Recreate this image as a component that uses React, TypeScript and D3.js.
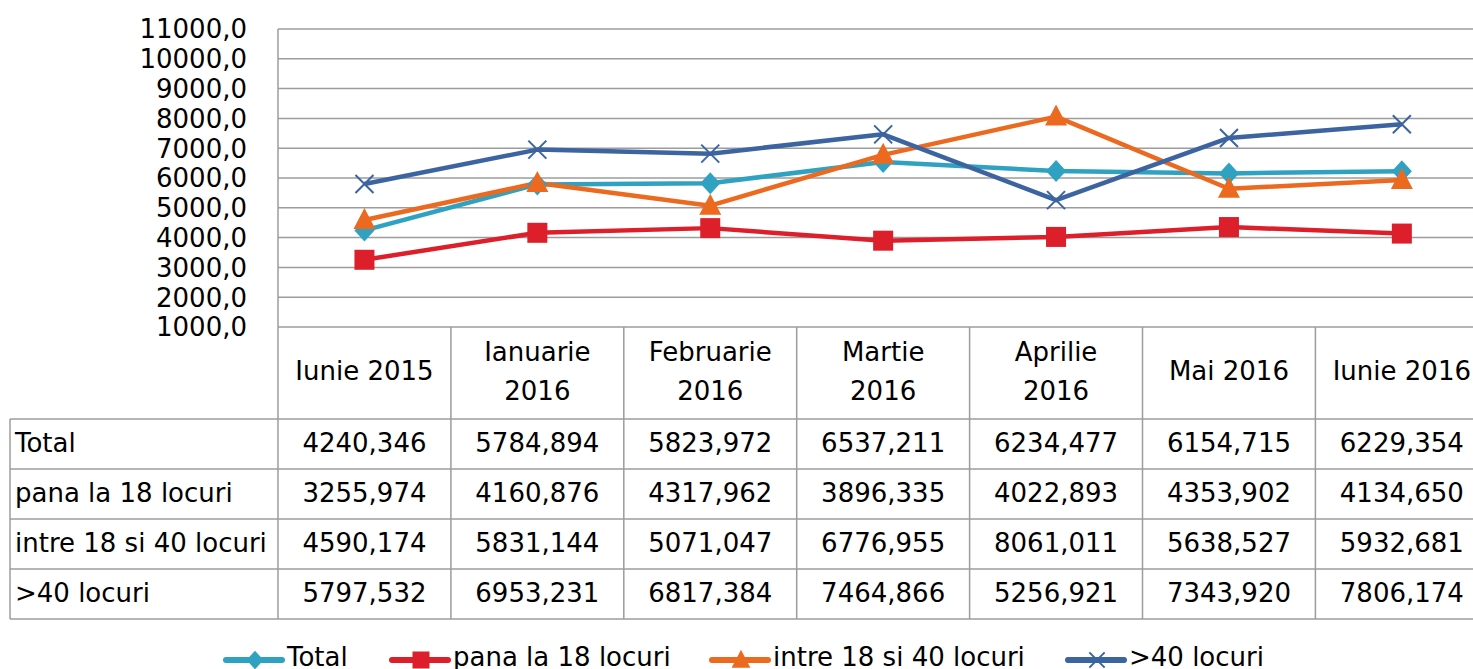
import React from "react";
import * as d3 from "d3";

const categories = ["Iunie 2015", "Ianuarie 2016", "Februarie 2016", "Martie 2016", "Aprilie 2016", "Mai 2016", "Iunie 2016"];
const headerLines = [["Iunie 2015"], ["Ianuarie", "2016"], ["Februarie", "2016"], ["Martie", "2016"], ["Aprilie", "2016"], ["Mai 2016"], ["Iunie 2016"]];

const seriesNames = ["Total", "pana la 18 locuri", "intre 18 si 40 locuri", ">40 locuri"];
const total = [4240.346, 5784.894, 5823.972, 6537.211, 6234.477, 6154.715, 6229.354];
const pana18 = [3255.974, 4160.876, 4317.962, 3896.335, 4022.893, 4353.902, 4134.65];
const intre1840 = [4590.174, 5831.144, 5071.047, 6776.955, 8061.011, 5638.527, 5932.681];
const peste40 = [5797.532, 6953.231, 6817.384, 7464.866, 5256.921, 7343.92, 7806.174];
const yTicks = [1000, 2000, 3000, 4000, 5000, 6000, 7000, 8000, 9000, 10000, 11000];

const colors = ["#2fa2c2", "#dc1f2a", "#ec6a1f", "#3b64a0"];
const markers = ["diamond", "square", "triangle", "x"];

const W = 1473;
const H = 669;
const plotLeft = 278;
const plotTop = 29;
const plotBottom = 327;
const colW = 172.9;
const tableLeft = 10;
const headerBottom = 419;
const tableBottom = 619;
const gridColor = "#9c9c9c";
const font = "'DejaVu Sans', Verdana, sans-serif";
const fs = 26;

const ro = d3.formatLocale({ decimal: ",", thousands: "", grouping: [3], currency: ["", ""] });
const fmt3 = ro.format(".3f");
const fmt1 = ro.format(".1f");

function Marker({ type, x, y, color, s = 1 }: { type: string; x: number; y: number; color: string; s?: number }) {
  if (type === "diamond") {
    return <path d={`M${x},${y - 11 * s}L${x + 10 * s},${y}L${x},${y + 11 * s}L${x - 10 * s},${y}Z`} fill={color} />;
  }
  if (type === "square") {
    return <rect x={x - 10 * s} y={y - 10 * s} width={20 * s} height={20 * s} fill={color} />;
  }
  if (type === "triangle") {
    return <path d={`M${x},${y - 12 * s}L${x + 11 * s},${y + 9 * s}L${x - 11 * s},${y + 9 * s}Z`} fill={color} />;
  }
  return (
    <g stroke={color} strokeWidth={2}>
      <line x1={x - 9 * s} y1={y - 9 * s} x2={x + 9 * s} y2={y + 9 * s} />
      <line x1={x - 9 * s} y1={y + 9 * s} x2={x + 9 * s} y2={y - 9 * s} />
    </g>
  );
}

export default function App() {
  const series = [total, pana18, intre1840, peste40];
  const x = d3.scaleBand<string>().domain(categories).range([plotLeft, plotLeft + colW * categories.length]);
  const y = d3.scaleLinear().domain([1000, 11000]).range([plotBottom, plotTop]);
  const rows = d3.scaleBand<string>().domain(seriesNames).range([headerBottom, tableBottom]);
  const cx = (c: string) => (x(c) as number) + x.bandwidth() / 2;

  const line = d3
    .line<number>()
    .x((_, i) => cx(categories[i]))
    .y((d) => y(d));

  const legendX = [226, 392, 712, 1068];

  return (
    <svg width={W} height={H} style={{ position: "fixed", left: 0, top: 0, background: "#fff" }} fontFamily={font}>
      {/* gridlines */}
      {yTicks.map((t) => (
        <line key={t} x1={plotLeft} x2={W} y1={y(t)} y2={y(t)} stroke={gridColor} strokeWidth={1.5} />
      ))}
      {yTicks.map((t) => (
        <text key={"l" + t} x={247} y={y(t)} dy="0.36em" textAnchor="end" fontSize={fs} fill="#000">
          {fmt1(t)}
        </text>
      ))}

      {/* table grid */}
      <line x1={plotLeft} x2={plotLeft} y1={plotTop} y2={tableBottom} stroke={gridColor} strokeWidth={1.5} />
      {categories.slice(1).map((c) => (
        <line key={c} x1={x(c)} x2={x(c)} y1={plotBottom} y2={tableBottom} stroke={gridColor} strokeWidth={1.5} />
      ))}
      <line x1={tableLeft} x2={tableLeft} y1={headerBottom} y2={tableBottom} stroke={gridColor} strokeWidth={1.5} />
      {seriesNames.map((s) => (
        <line key={s} x1={tableLeft} x2={W} y1={rows(s)} y2={rows(s)} stroke={gridColor} strokeWidth={1.5} />
      ))}
      <line x1={tableLeft} x2={W} y1={tableBottom} y2={tableBottom} stroke={gridColor} strokeWidth={1.5} />

      {/* header */}
      {categories.map((c, i) => {
        const lines = headerLines[i];
        const mid = (plotBottom + headerBottom) / 2 - 2;
        return lines.map((l, j) => (
          <text key={c + j} x={cx(c)} y={mid + (j - (lines.length - 1) / 2) * 39} dy="0.36em" textAnchor="middle" fontSize={fs}>
            {l}
          </text>
        ));
      })}

      {/* rows */}
      {seriesNames.map((s, si) => (
        <g key={s}>
          <text x={15} y={(rows(s) as number) + rows.bandwidth() / 2 - 1} dy="0.36em" fontSize={fs}>
            {s}
          </text>
          {series[si].map((v, i) => (
            <text key={i} x={cx(categories[i])} y={(rows(s) as number) + rows.bandwidth() / 2 - 1} dy="0.36em" textAnchor="middle" fontSize={fs}>
              {fmt3(v)}
            </text>
          ))}
        </g>
      ))}

      {/* lines */}
      {series.map((vals, si) => (
        <path key={si} d={line(vals) as string} fill="none" stroke={colors[si]} strokeWidth={4.5} strokeLinejoin="round" />
      ))}
      {series.map((vals, si) =>
        vals.map((v, i) => <Marker key={si + "-" + i} type={markers[si]} x={cx(categories[i])} y={y(v)} color={colors[si]} />)
      )}

      {/* legend */}
      {seriesNames.map((s, si) => {
        const lx = legendX[si];
        const ly = 660;
        return (
          <g key={"lg" + s}>
            <line x1={lx} x2={lx + 56} y1={ly} y2={ly} stroke={colors[si]} strokeWidth={6} strokeLinecap="round" />
            <Marker type={markers[si]} x={lx + 29} y={ly} color={colors[si]} s={0.85} />
            <text x={lx + 61} y={666} fontSize={fs}>
              {s}
            </text>
          </g>
        );
      })}
    </svg>
  );
}
